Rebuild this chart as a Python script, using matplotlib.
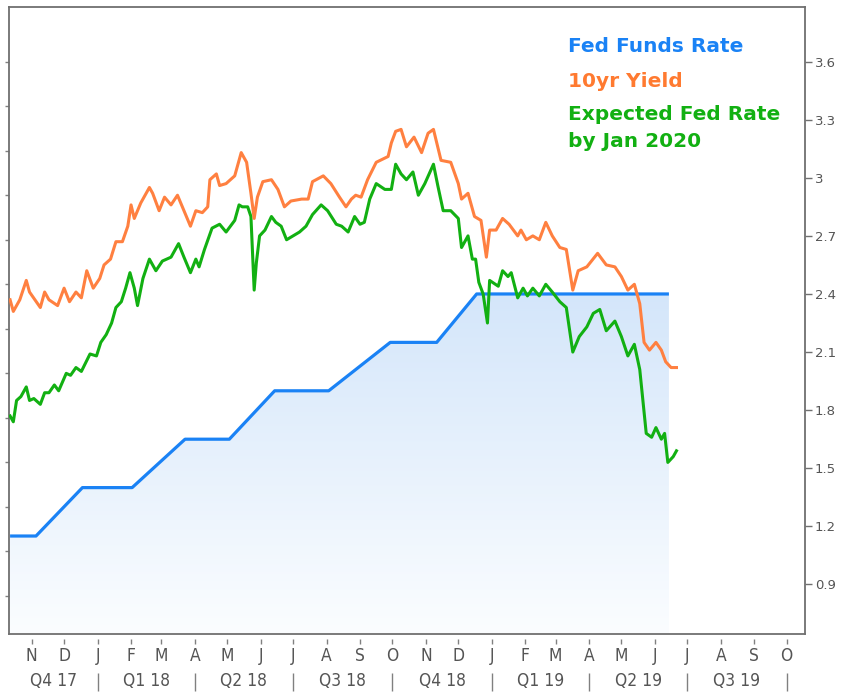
import matplotlib.pyplot as plt
import matplotlib.dates as mdates
import matplotlib.transforms as mtransforms
from matplotlib.colors import LinearSegmentedColormap
import numpy as np
import pandas as pd

# Data
fed_dates = ['2017-10-12', '2017-11-05', '2017-12-18', '2018-02-02', '2018-03-23',
             '2018-05-03', '2018-06-14', '2018-08-03', '2018-09-29', '2018-11-11',
             '2018-12-18', '2019-06-14']
fed_rate = [1.15, 1.15, 1.40, 1.40, 1.65, 1.65, 1.90, 1.90, 2.15, 2.15, 2.40, 2.40]

yield_dates = ['2017-10-12', '2017-10-15', '2017-10-21', '2017-10-27', '2017-10-30',
               '2017-11-09', '2017-11-13', '2017-11-17', '2017-11-25', '2017-12-01',
               '2017-12-06', '2017-12-12', '2017-12-17', '2017-12-22', '2017-12-28',
               '2018-01-03', '2018-01-07', '2018-01-13', '2018-01-18', '2018-01-24',
               '2018-01-29', '2018-02-01', '2018-02-04', '2018-02-10', '2018-02-18',
               '2018-02-21', '2018-02-27', '2018-03-04', '2018-03-10', '2018-03-16',
               '2018-03-22', '2018-03-28', '2018-04-02', '2018-04-08', '2018-04-13',
               '2018-04-15', '2018-04-21', '2018-04-24', '2018-04-30', '2018-05-08',
               '2018-05-14', '2018-05-19', '2018-05-23', '2018-05-26', '2018-05-29',
               '2018-06-03', '2018-06-11', '2018-06-17', '2018-06-23', '2018-06-29',
               '2018-07-09', '2018-07-15', '2018-07-19', '2018-07-29', '2018-08-05',
               '2018-08-13', '2018-08-19', '2018-08-24', '2018-08-28', '2018-09-02',
               '2018-09-08', '2018-09-16', '2018-09-27', '2018-09-30', '2018-10-04',
               '2018-10-09', '2018-10-14', '2018-10-21', '2018-10-28', '2018-11-03',
               '2018-11-08', '2018-11-15', '2018-11-24', '2018-12-01', '2018-12-04',
               '2018-12-10', '2018-12-16', '2018-12-22', '2018-12-27', '2018-12-30',
               '2019-01-05', '2019-01-11', '2019-01-17', '2019-01-25', '2019-01-28',
               '2019-02-02', '2019-02-08', '2019-02-14', '2019-02-20', '2019-02-26',
               '2019-03-05', '2019-03-11', '2019-03-17', '2019-03-22', '2019-03-30',
               '2019-04-09', '2019-04-17', '2019-04-25', '2019-05-01', '2019-05-07',
               '2019-05-13', '2019-05-18', '2019-05-22', '2019-05-27', '2019-06-02',
               '2019-06-07', '2019-06-11', '2019-06-16', '2019-06-21']
yield_10yr = [2.37, 2.31, 2.37, 2.47, 2.41, 2.33, 2.41, 2.37, 2.34, 2.43,
              2.36, 2.41, 2.38, 2.52, 2.43, 2.48, 2.55, 2.58, 2.67, 2.67,
              2.75, 2.86, 2.79, 2.87, 2.95, 2.92, 2.83, 2.90, 2.86, 2.91,
              2.83, 2.75, 2.83, 2.82, 2.85, 2.99, 3.02, 2.96, 2.97, 3.01,
              3.13, 3.08, 2.92, 2.79, 2.90, 2.98, 2.99, 2.94, 2.85, 2.88,
              2.89, 2.89, 2.98, 3.01, 2.97, 2.90, 2.85, 2.89, 2.91, 2.90,
              2.99, 3.08, 3.11, 3.18, 3.24, 3.25, 3.16, 3.21, 3.13, 3.23,
              3.25, 3.09, 3.08, 2.97, 2.89, 2.92, 2.80, 2.78, 2.59, 2.73,
              2.73, 2.79, 2.76, 2.70, 2.73, 2.68, 2.70, 2.68, 2.77, 2.70,
              2.64, 2.63, 2.42, 2.52, 2.54, 2.61, 2.55, 2.54, 2.49, 2.42,
              2.45, 2.35, 2.15, 2.11, 2.15, 2.11, 2.05, 2.02, 2.02]

exp_dates = ['2017-10-12', '2017-10-15', '2017-10-18', '2017-10-22', '2017-10-27',
             '2017-10-30', '2017-11-03', '2017-11-09', '2017-11-13', '2017-11-17',
             '2017-11-22', '2017-11-26', '2017-12-03', '2017-12-07', '2017-12-12',
             '2017-12-17', '2017-12-25', '2017-12-31', '2018-01-04', '2018-01-09',
             '2018-01-14', '2018-01-18', '2018-01-23', '2018-01-27', '2018-01-31',
             '2018-02-04', '2018-02-07', '2018-02-12', '2018-02-18', '2018-02-24',
             '2018-03-02', '2018-03-10', '2018-03-17', '2018-03-22', '2018-03-28',
             '2018-04-02', '2018-04-05', '2018-04-10', '2018-04-17', '2018-04-24',
             '2018-04-30', '2018-05-08', '2018-05-12', '2018-05-15', '2018-05-20',
             '2018-05-23', '2018-05-26', '2018-05-28', '2018-05-31', '2018-06-05',
             '2018-06-11', '2018-06-15', '2018-06-20', '2018-06-25', '2018-07-01',
             '2018-07-07', '2018-07-13', '2018-07-19', '2018-07-27', '2018-08-02',
             '2018-08-10', '2018-08-15', '2018-08-21', '2018-08-27', '2018-09-01',
             '2018-09-05', '2018-09-10', '2018-09-16', '2018-09-24', '2018-09-30',
             '2018-10-04', '2018-10-09', '2018-10-14', '2018-10-20', '2018-10-25',
             '2018-10-31', '2018-11-08', '2018-11-12', '2018-11-17', '2018-11-24',
             '2018-12-01', '2018-12-04', '2018-12-10', '2018-12-14', '2018-12-17',
             '2018-12-20', '2018-12-24', '2018-12-28', '2018-12-30', '2019-01-07',
             '2019-01-11', '2019-01-16', '2019-01-19', '2019-01-25', '2019-01-30',
             '2019-02-03', '2019-02-08', '2019-02-14', '2019-02-20', '2019-02-26',
             '2019-03-05', '2019-03-11', '2019-03-17', '2019-03-23', '2019-03-30',
             '2019-04-05', '2019-04-11', '2019-04-17', '2019-04-25', '2019-05-01',
             '2019-05-07', '2019-05-13', '2019-05-18', '2019-05-24', '2019-05-29',
             '2019-06-02', '2019-06-07', '2019-06-10', '2019-06-13', '2019-06-18',
             '2019-06-21']
exp_rate = [1.77, 1.74, 1.85, 1.87, 1.92, 1.85, 1.86, 1.83, 1.89, 1.89,
            1.93, 1.90, 1.99, 1.98, 2.02, 2.00, 2.09, 2.08, 2.15, 2.19,
            2.25, 2.33, 2.36, 2.43, 2.51, 2.43, 2.34, 2.48, 2.58, 2.52,
            2.57, 2.59, 2.66, 2.59, 2.51, 2.58, 2.54, 2.63, 2.74, 2.76,
            2.72, 2.78, 2.86, 2.85, 2.85, 2.80, 2.42, 2.56, 2.70, 2.73,
            2.80, 2.77, 2.75, 2.68, 2.70, 2.72, 2.75, 2.81, 2.86, 2.83,
            2.76, 2.75, 2.72, 2.80, 2.76, 2.77, 2.89, 2.97, 2.94, 2.94,
            3.07, 3.02, 2.99, 3.03, 2.91, 2.97, 3.07, 2.96, 2.83, 2.83,
            2.79, 2.64, 2.70, 2.58, 2.58, 2.46, 2.40, 2.25, 2.47, 2.44,
            2.52, 2.49, 2.51, 2.38, 2.43, 2.39, 2.43, 2.39, 2.45, 2.41,
            2.36, 2.33, 2.10, 2.18, 2.23, 2.30, 2.32, 2.21, 2.26, 2.18,
            2.08, 2.14, 2.01, 1.68, 1.66, 1.71, 1.65, 1.68, 1.53, 1.56,
            1.59]

y_ticks = [0.9, 1.2, 1.5, 1.8, 2.1, 2.4, 2.7, 3.0, 3.3, 3.6]
quarter_labels = ['Q4 17', 'Q1 18', 'Q2 18', 'Q3 18', 'Q4 18', 'Q1 19', 'Q2 19', 'Q3 19']
legend_lines = ['Fed Funds Rate', '10yr Yield', 'Expected Fed Rate', 'by Jan 2020']
legend_colors = ['#1a82f5', '#ff7a30', '#12b012', '#12b012']

x_min, x_max = pd.Timestamp('2017-10-11'), pd.Timestamp('2019-10-18')
y_min, y_max = 0.644, 3.882

fig = plt.figure(figsize=(8.51, 6.96), dpi=100)
ax = fig.add_axes([9 / 851, 1 - 634 / 696, 796 / 851, 627 / 696])

fd = pd.to_datetime(fed_dates)
ax.plot(fd, fed_rate, color='#1a82f5', lw=2.3, zorder=3, solid_capstyle='butt')
ax.plot(pd.to_datetime(exp_dates), exp_rate, color='#12b012', lw=2.2, zorder=4)
ax.plot(pd.to_datetime(yield_dates), yield_10yr, color='#ff8040', lw=2.2, zorder=5)

# gradient fill under the fed funds line
fdn = mdates.date2num(fd)
poly = ax.fill_between(fd, fed_rate, y_min, color='none', lw=0)
cmap = LinearSegmentedColormap.from_list('fill', ['#fbfdff', '#d4e6fa'])
grad = np.linspace(0, 1, 256).reshape(-1, 1)
im = ax.imshow(grad, cmap=cmap, aspect='auto', origin='lower',
               extent=[fdn[0], fdn[-1], y_min, max(fed_rate)], zorder=1)
im.set_clip_path(poly.get_paths()[0], transform=ax.transData)

ax.set_xlim(x_min, x_max)
ax.set_ylim(y_min, y_max)

for s in ax.spines.values():
    s.set_color('#707070')
    s.set_linewidth(1.3)

# right axis labels
ax.yaxis.tick_right()
ax.set_yticks(y_ticks)
ax.set_yticklabels([f'{t:g}' for t in y_ticks])
ax.tick_params(axis='y', direction='out', length=5, width=1, color='#707070',
               labelsize=9.5, labelcolor='#555555', pad=2)

# unlabeled ticks on the left edge
sec = ax.secondary_yaxis('left', functions=(lambda v: (3.6 - v) / 0.2298,
                                             lambda k: 3.6 - k * 0.2298))
sec.set_yticks(range(0, 13))
sec.set_yticklabels([])
sec.tick_params(length=3, width=1, color='#808080')
sec.spines['left'].set_visible(False)

# month letters
months = pd.date_range('2017-11-01', '2019-10-01', freq='MS')
ax.set_xticks(months)
ax.set_xticklabels([m.strftime('%b')[0] for m in months],
                   fontstretch='condensed', fontsize=12.5)
ax.tick_params(axis='x', length=0, pad=9.5, labelcolor='#555555')
trans = mtransforms.blended_transform_factory(ax.transData, ax.transAxes)
ax.vlines(months, -0.016, -0.008, color='#808080', lw=1, transform=trans, clip_on=False)

# quarter labels and separators
qstarts = pd.date_range('2018-01-01', '2019-10-01', freq='QS')
edges = [x_min] + list(qstarts)
for lab, a, b in zip(quarter_labels, edges[:-1], edges[1:]):
    ax.text(a + (b - a) / 2, -0.075, lab, transform=trans, ha='center', va='center',
            fontstretch='condensed', fontsize=12.5, color='#555555')
ax.vlines(qstarts, -0.091, -0.062, color='#808080', lw=1, transform=trans, clip_on=False)

# coloured legend text
y_base = [0.9287, 0.8729, 0.8198, 0.7772]
for txt, col, yb in zip(legend_lines, legend_colors, y_base):
    ax.text(0.702, yb, txt, transform=ax.transAxes, color=col, fontsize=14.5,
            fontweight='bold', va='baseline', ha='left')

fig.savefig('out.png', dpi=100)
